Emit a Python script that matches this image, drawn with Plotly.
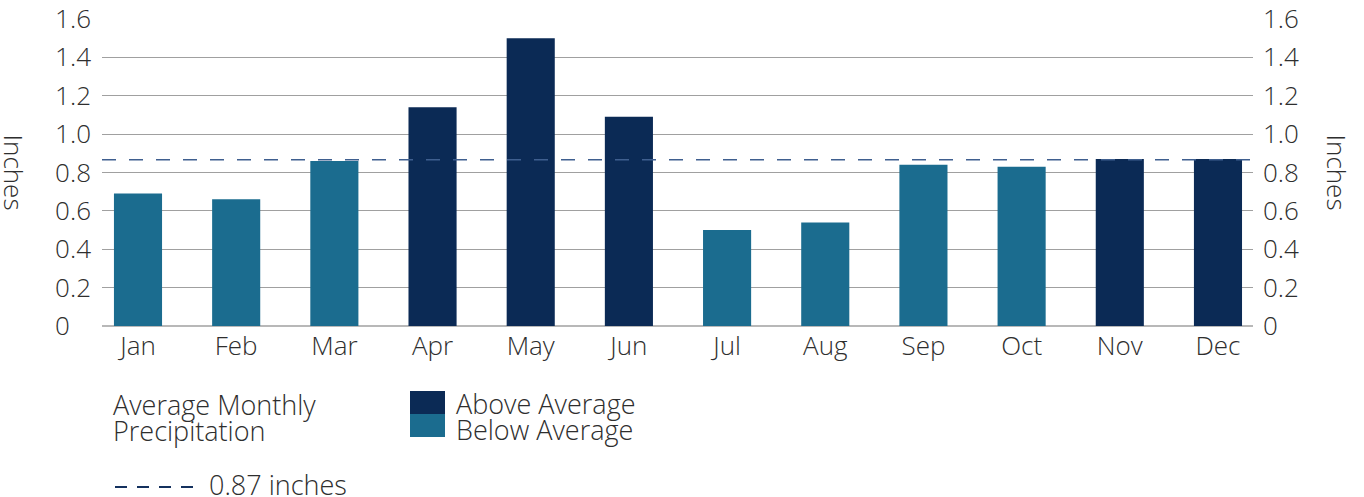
import plotly.graph_objects as go

months = ["Jan", "Feb", "Mar", "Apr", "May", "Jun", "Jul", "Aug", "Sep", "Oct", "Nov", "Dec"]
precip = [0.69, 0.66, 0.86, 1.14, 1.50, 1.09, 0.50, 0.54, 0.84, 0.83, 0.87, 0.87]
average = 0.866
average_label = "0.87 inches"
y_ticks = [0, 0.2, 0.4, 0.6, 0.8, 1.0, 1.2, 1.4, 1.6]
y_ticktext = ["0", "0.2", "0.4", "0.6", "0.8", "1.0", "1.2", "1.4", "1.6"]

DARK = "#0b2a55"
TEAL = "#1b6c8f"
TEXT = "#2e2e2e"
FONT = "Open Sans"
W, H = 1364, 497
L, R, T, B = 102, 111, 19, 171
PW, PH = W - L - R, H - T - B

def px(x):
    return (x - L) / PW

def py(y):
    return (H - B - y) / PH

colors = [DARK if v > average else TEAL for v in precip]
xs = list(range(len(months)))

fig = go.Figure()
fig.add_trace(go.Bar(x=xs, y=precip, marker=dict(color=colors, line=dict(width=0)),
                     width=0.49, showlegend=False, hoverinfo="x+y"))
fig.add_trace(go.Scatter(x=xs, y=precip, yaxis="y2", mode="markers",
                         marker=dict(opacity=0), showlegend=False, hoverinfo="skip"))

fig.add_shape(type="line", xref="paper", yref="y", x0=0, x1=1, y0=average, y1=average,
              line=dict(color="#3f5f8f", width=1.5, dash="14px,13px"))

font = dict(family=FONT, size=26, color=TEXT, weight=300)
legend_font = dict(family=FONT, size=27, color=TEXT, weight=300)
x_start = -(138 - L) / 98.18
x_end = x_start + PW / 98.18

fig.update_layout(
    width=W, height=H,
    margin=dict(l=L, r=R, t=T, b=B, autoexpand=False),
    paper_bgcolor="white", plot_bgcolor="white",
    font=font,
    xaxis=dict(range=[x_start, x_end], tickvals=xs, ticktext=months, showgrid=False,
               zeroline=False, showline=False, ticks="", tickfont=font, fixedrange=True,
               automargin=False, ticklabelstandoff=2),
    yaxis=dict(range=[0, 1.6], tickvals=y_ticks,
               ticktext=["0\u2008\u2007"] + y_ticktext[1:],
               showgrid=True, gridcolor="#a0a0a0", gridwidth=1,
               zeroline=True, zerolinecolor="#b8b8b8", zerolinewidth=1.5,
               showline=False, ticks="", tickfont=font, ticklabelstandoff=10,
               automargin=False),
    yaxis2=dict(range=[0, 1.6], tickvals=y_ticks, ticktext=y_ticktext, overlaying="y",
                side="right", showgrid=False, zeroline=False, showline=False, ticks="",
                tickfont=font, ticklabelstandoff=9, automargin=False),
    bargap=0.5,
)

# axis titles
fig.add_annotation(text="Inches", xref="paper", yref="paper", x=px(14), y=0.5,
                   textangle=90, showarrow=False, font=font, xanchor="center",
                   yanchor="middle", borderpad=0)
fig.add_annotation(text="Inches", xref="paper", yref="paper", x=px(1337), y=0.5,
                   textangle=90, showarrow=False, font=font, xanchor="center",
                   yanchor="middle", borderpad=0)

# legend block
def label(text, x, y):
    fig.add_annotation(text=text, xref="paper", yref="paper", x=px(x), y=py(y),
                       xanchor="left", yanchor="middle", showarrow=False, font=legend_font,
                       borderpad=0)

label("Average Monthly", 112, 404)
label("Precipitation", 112, 430)
fig.add_shape(type="rect", xref="paper", yref="paper", x0=px(410), x1=px(445),
              y0=py(391), y1=py(414), fillcolor=DARK, line=dict(width=0))
fig.add_shape(type="rect", xref="paper", yref="paper", x0=px(410), x1=px(445),
              y0=py(414), y1=py(437), fillcolor=TEAL, line=dict(width=0))
label("Above Average", 455, 403)
label("Below Average", 455, 429)
fig.add_shape(type="line", xref="paper", yref="paper", x0=px(115), x1=px(201),
              y0=py(487), y1=py(487), line=dict(color="#14315e", width=2, dash="12px,10px"))
label(average_label, 208, 484)

fig.write_html("out.html", post_script="document.body.style.margin='0';",
               config={"displayModeBar": False})
